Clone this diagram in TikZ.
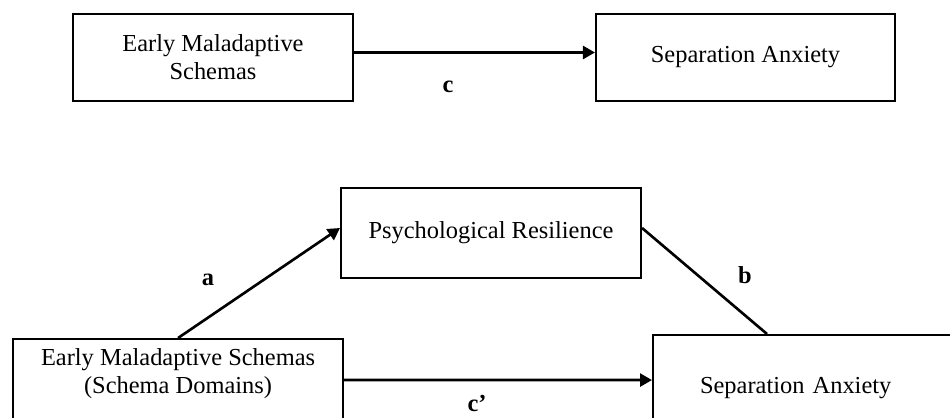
\documentclass[tikz,border=0pt]{standalone}
\usepackage{fontspec}
\setmainfont{Liberation Serif}
\usetikzlibrary{arrows.meta}
\tikzstyle{var-box} = [rectangle, draw=black, line width=1.2pt, font=\fontsize{13.9}{16}\selectfont, align=center]
\tikzstyle{arrow} = [line width=1.5pt, -{Triangle[length=0.24cm, width=0.26cm]}]
\tikzstyle{link} = [line width=1.5pt]
\tikzstyle{path-label} = [font=\fontsize{13.9}{16}\selectfont\bfseries]

\begin{document}
\begin{tikzpicture}
\useasboundingbox (0,0) rectangle (19,8.34);
\clip (0,0) rectangle (19,8.34);

% Total effect
\node (ems-top) [var-box, minimum width=5.6cm, minimum height=1.74cm] at (4.26,7.19) {Early Maladaptive\\Schemas};
\node (sep-top) [var-box, minimum width=5.98cm, minimum height=1.74cm] at (14.91,7.19) {Separation Anxiety};
\draw [arrow] ([yshift=0.1cm]ems-top.east) -- ([yshift=0.1cm]sep-top.west);
\node (lbl-c) [path-label] at (8.96,6.6) {c};

% Mediation model
\node (res) [var-box, minimum width=6cm, minimum height=1.8cm] at (9.82,3.68) {Psychological Resilience};
\node (ems-dom) [var-box, anchor=north west, minimum width=6.6cm, inner ysep=0pt, text height=1.09cm, text depth=0.55cm] at (0.24,1.58) {Early Maladaptive Schemas\\(Schema Domains)};
\node (sep-bot) [var-box, anchor=north west, align=left, text width=4.2cm, inner xsep=0.94cm, inner ysep=0pt, text height=1.17cm, text depth=0.63cm] at (13.04,1.66) {Separation Anxiety};

\draw [arrow] (ems-dom.north) -- ([yshift=0.1cm]res.west);
\draw [link] ([yshift=0.1cm]res.east) -- ([xshift=2.3cm]sep-bot.north west);
\draw [arrow] (ems-dom.east) -- (sep-bot.west);

\node (lbl-a) [path-label] at (4.16,2.74) {a};
\node (lbl-b) [path-label] at (14.9,2.84) {b};
\node (lbl-cp) [path-label] at (9.54,0.28) {c’};

\end{tikzpicture}
\end{document}
